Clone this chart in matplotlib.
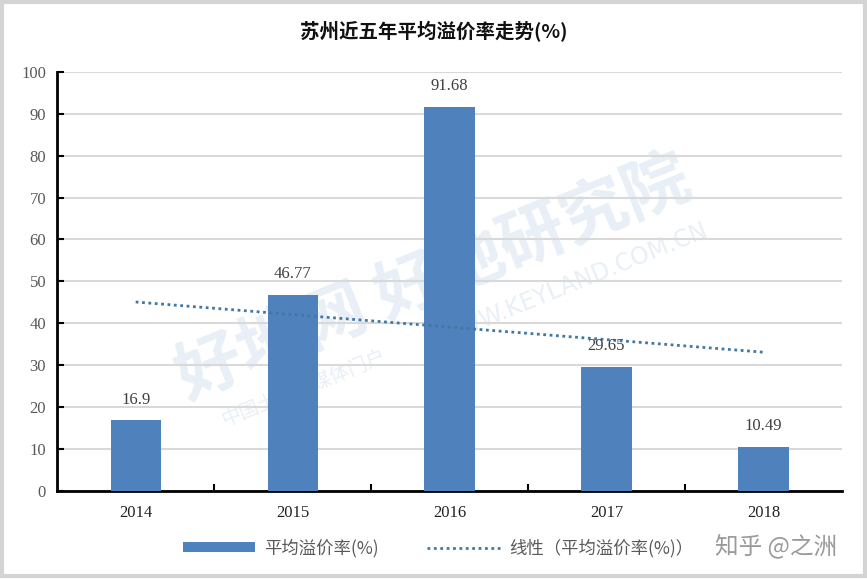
import numpy as np
import matplotlib.pyplot as plt
from matplotlib.patches import Rectangle

years = ['2014', '2015', '2016', '2017', '2018']
premium = [16.9, 46.77, 91.68, 29.65, 10.49]
labels = ['16.9', '46.77', '91.68', '29.65', '10.49']

cjk = ['Noto Sans CJK SC', 'DejaVu Sans']
serif = ['Liberation Serif', 'DejaVu Serif']

fig = plt.figure(figsize=(8.67, 5.79), dpi=100)
ax = fig.add_axes([0.066, 0.152, 0.905, 0.724])
ax.patch.set_alpha(0)

x = np.arange(len(years))
bar_color = '#4f81bd'
bars = ax.bar(x, premium, width=0.32, color=bar_color, zorder=3)

# linear trend line like excel
k, b = np.polyfit(x, premium, 1)
trend, = ax.plot(x, k * x + b, linestyle=(0, (1, 1.3)), linewidth=2, color='#3f78a3',
                 zorder=4)

for xi, v, s in zip(x, premium, labels):
    ax.text(xi, v + 3, s, ha='center', va='bottom', fontsize=12,
            family=serif, color='#404040', zorder=5)

ax.set_xlim(-0.5, 4.5)
ax.set_ylim(0, 100)
ax.set_yticks(range(0, 101, 10))
ax.set_xticks(x)
ax.set_xticklabels(years, family=serif, fontsize=12, color='#222222')
for t in ax.get_yticklabels():
    t.set_family(serif)
    t.set_fontsize(12)
    t.set_color('#595959')
ax.set_xticks(np.arange(0.5, 4.5, 1), minor=True)
ax.tick_params(axis='x', which='major', length=0, pad=10)
ax.tick_params(axis='x', which='minor', direction='in', length=5, width=1.5)
ax.tick_params(axis='y', direction='in', length=5, width=1.5, pad=8)

ax.grid(axis='y', color='#d9d9d9', linewidth=1.5, zorder=0)
for side in ['top', 'right']:
    ax.spines[side].set_visible(False)
for side in ['left', 'bottom']:
    ax.spines[side].set_linewidth(2)
    ax.spines[side].set_color('black')

fig.text(0.5, 0.945, '苏州近五年平均溢价率走势(%)', ha='center', va='center',
         fontsize=14, fontweight='bold', family=cjk, color='#111111')

leg = fig.legend([bars, trend], ['平均溢价率(%)', '线性（平均溢价率(%)）'],
                 loc='center', bbox_to_anchor=(0.505, 0.054), ncol=2, frameon=False,
                 prop={'family': cjk, 'size': 12.5}, handlelength=4.2, handleheight=0.45,
                 handletextpad=0.5, columnspacing=2.8)
for t in leg.get_texts():
    t.set_color('#595959')

# watermarks (behind the bars)
wm = dict(ha='center', va='center', rotation=22, color='#4f81bd', alpha=0.13, zorder=-1)
fig.text(0.50, 0.52, '好地网 好地研究院', fontsize=48, fontweight='bold', family=cjk, **wm)
fig.text(0.66, 0.51, 'WWW.KEYLAND.COM.CN', fontsize=17, family=['DejaVu Sans'], **wm)
fig.text(0.35, 0.33, '中国土地新媒体门户', fontsize=14, family=cjk, **wm)

fig.text(0.895, 0.058, '知乎 @之洲', ha='center', va='center', fontsize=17,
         family=cjk, color='#9a9a9a')

fig.patches.append(Rectangle((0.002, 0.006), 0.996, 0.99, transform=fig.transFigure,
                             fill=False, edgecolor='#d4d4d4', linewidth=3))

fig.savefig('out.png', dpi=100)
